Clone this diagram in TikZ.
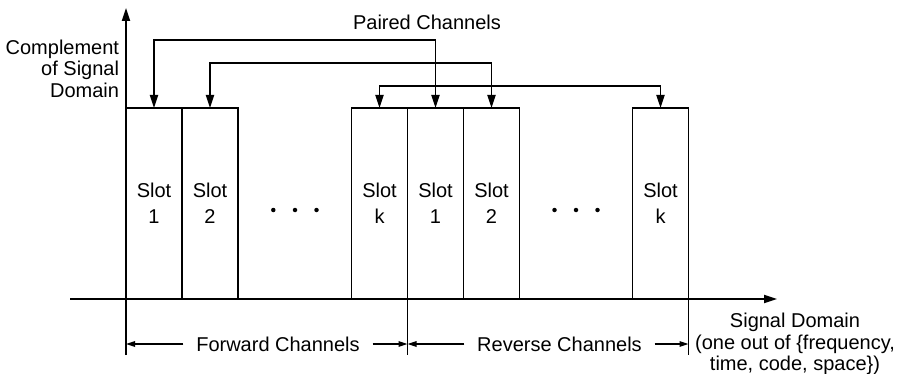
\documentclass[tikz,border=0pt]{standalone}
\usepackage{fontspec}
\setmainfont{Liberation Sans}
\usetikzlibrary{arrows.meta}
\begin{document}
\begin{tikzpicture}[x=1pt,y=-1pt,
  line width=1.9pt,
  slotbox/.style={draw,rectangle,minimum width=56pt,minimum height=191pt,inner sep=0pt,outer sep=0pt,anchor=north west,align=center,font=\fontsize{20}{26}\selectfont},
  lbl/.style={font=\fontsize{20}{21.5}\selectfont,inner sep=0pt},
  pair/.style={{Triangle[length=13pt,width=8pt]}-{Triangle[length=13pt,width=8pt]}},
  axisarr/.style={-{Triangle[length=13pt,width=8pt]}},
  dimarr/.style={line width=1.6pt,-{Triangle[length=9pt,width=5.5pt]}},
  dotmark/.style={circle,fill,inner sep=0pt,minimum size=4.5pt}
]
\useasboundingbox (0,0) rectangle (907,374);

% slots
\node[slotbox] (f1) at (126,108) {Slot\\1};
\node[slotbox] (f2) at (182,108) {Slot\\2};
\node[slotbox] (fk) at (351.5,108) {Slot\\k};
\node[slotbox] (r1) at (407.5,108) {Slot\\1};
\node[slotbox] (r2) at (463.5,108) {Slot\\2};
\node[slotbox] (rk) at (632.5,108) {Slot\\k};

% axes
\coordinate (ytop) at (126,8);
\coordinate (ybot) at (126,355);
\coordinate (xl) at (70,299);
\coordinate (xr) at (777,299);
\draw[axisarr] (ybot) -- (ytop);
\draw[axisarr] (xl) -- (xr);

% extension lines
\draw (r1.south west) -- ++(0,56);
\draw (rk.south east) -- ++(0,56);

% paired channel connectors
\draw[pair] (f1.north) -- ++(0,-68) -| (r1.north);
\draw[pair] (f2.north) -- ++(0,-45) -| (r2.north);
\draw[pair] (fk.north) -- ++(0,-22) -| (rk.north);

% labels
\node[lbl] (pc) at (427,22) {Paired Channels};
\node[lbl,align=right,anchor=east] (csd) at (120,68.5) {Complement\\of Signal\\Domain};
\node[lbl,align=center] (sd) at (795,344) {Signal Domain\\(one out of \{frequency,\\time, code, space\})};
\node[lbl,inner xsep=12pt] (fwd) at (278,344) {Forward Channels};
\node[lbl,inner xsep=12pt] (rev) at (559.5,344) {Reverse Channels};

% dimension arrows
\draw[dimarr] (fwd.west) -- (fwd.west -| f1.west);
\draw[dimarr] (fwd.east) -- (fwd.east -| r1.west);
\draw[dimarr] (rev.west) -- (rev.west -| r1.west);
\draw[dimarr] (rev.east) -- (rev.east -| rk.east);

% ellipsis dots
\foreach \i/\x in {1/273.3,2/295,3/316.5} \node[dotmark] (dl\i) at (\x,210) {};
\foreach \i/\x in {1/554.5,2/576,3/597.5} \node[dotmark] (dr\i) at (\x,210) {};
\end{tikzpicture}
\end{document}
